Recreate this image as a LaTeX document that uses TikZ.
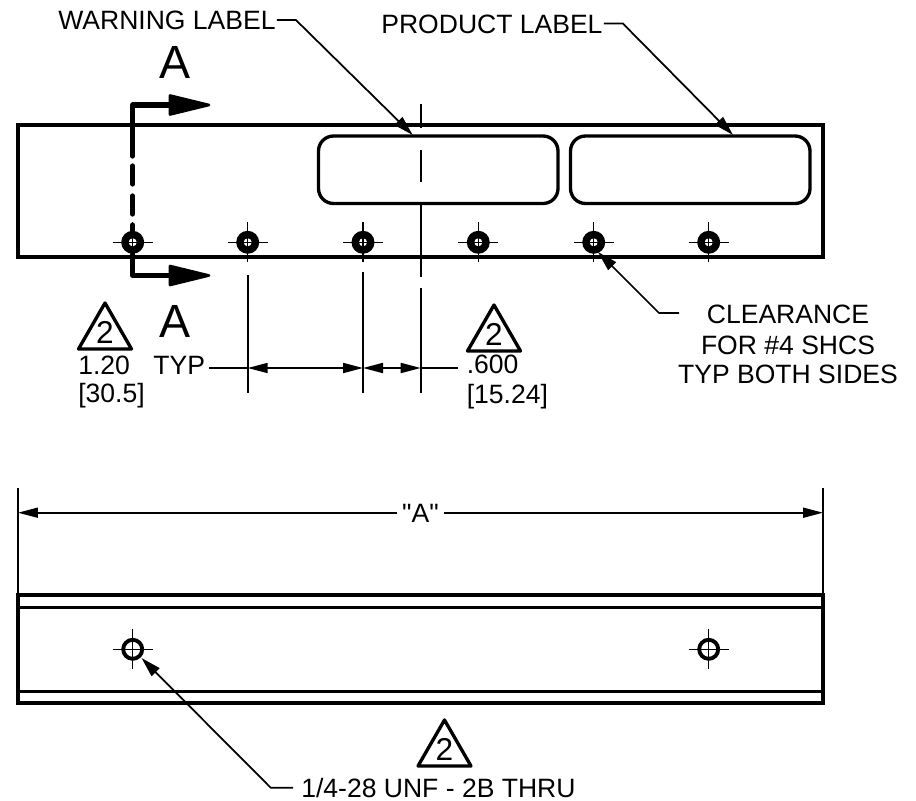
\documentclass[tikz,border=0pt]{standalone}
\usepackage{fontspec}
\setmainfont{Liberation Sans}
\newfontfamily\quotefont{Liberation Sans}
\usetikzlibrary{arrows.meta}
\begin{document}
\begin{tikzpicture}[x=0.02cm, y=-0.02cm,
    textStyle/.style={inner sep=0pt, font=\fontsize{15.1}{18}\selectfont},
    bigStyle/.style={inner sep=0pt, anchor=base, font=\fontsize{26.5}{30}\selectfont},
    revStyle/.style={inner sep=0pt, anchor=base, font=\fontsize{18}{20}\selectfont},
    partStyle/.style={line width=1.9pt},
    thinStyle/.style={line width=1pt},
    leaderStyle/.style={line width=1pt, -{Triangle[length=0.4cm, width=0.22cm]}},
    dimStyle/.style={line width=1pt, {Triangle[length=0.4cm, width=0.2cm]}-{Triangle[length=0.4cm, width=0.2cm]}},
    cutStyle/.style={line width=3pt, line cap=round, line join=round},
    headStyle/.style={fill=black, draw=black, line width=1.5pt, line join=round},
    revTriStyle/.style={line width=1.9pt, line join=round, line cap=round},
    screwStyle/.style={circle, fill=black, minimum size=0.46cm, inner sep=0pt},
    holeStyle/.style={circle, draw, line width=2.2pt, minimum size=0.38cm, inner sep=0pt},
    crossStyle/.style={line width=0.9pt}]
    \useasboundingbox (0,0) rectangle (916,801);

    % top view
    \draw[partStyle] (18,125) rectangle (823,257);
    \draw[line width=2.6pt] (18,227) -- (18,257) -- (823,257) -- (823,227);
    \draw[partStyle, rounded corners=0.3cm] (318.5,136) rectangle (558,203.5);
    \draw[partStyle, rounded corners=0.3cm] (570.5,136) rectangle (810,203.5);

    % screws
    \foreach \name/\xpos in {s0/132.7, s1/247.7, s2/363, s3/478.3, s4/593.7, s5/708.7} {
        \node[screwStyle] (\name) at (\xpos, 242.3) {};
        \fill[white] (\xpos, 242.3) circle (0.08cm);
        \draw[crossStyle] (\xpos-20, 242.3) -- (\xpos+20, 242.3);
        \draw[crossStyle] (\xpos, 222.3) -- (\xpos, 262.3);
    }

    % section line
    \coordinate (cut_top) at (132.7,105);
    \coordinate (cut_bot) at (132.7,275.5);
    \draw[cutStyle] (170,105) -- (cut_top) -- (132.7,156);
    \draw[cutStyle] (132.7,166) -- (132.7,184);
    \draw[cutStyle] (132.7,196) -- (132.7,214);
    \draw[cutStyle] (132.7,225) -- (s0);
    \draw[cutStyle] (s0) -- (cut_bot) -- (170,275.5);
    \draw[headStyle] (170,95.5) -- (209,105) -- (170,114.5) -- cycle;
    \draw[headStyle] (170,266) -- (209,275.5) -- (170,285) -- cycle;
    \node[bigStyle] (a_top) at (175,78) {A};
    \node[bigStyle] (a_bot) at (175,337) {A};

    % center line
    \draw[thinStyle] (420.7,104) -- (420.7,128);
    \draw[thinStyle] (420.7,150) -- (420.7,182);
    \draw[thinStyle] (420.7,205) -- (420.7,277);
    \draw[thinStyle] (420.7,288) -- (420.7,393);

    % extension lines
    \draw[thinStyle] (247.7,275) -- (247.7,393);
    \draw[thinStyle] (363,272) -- (363,393);

    % dimensions
    \coordinate (d0) at (247.7,368);
    \coordinate (d1) at (363,368);
    \coordinate (d2) at (420.7,368);
    \draw[dimStyle] (d0) -- (d1);
    \draw[dimStyle] (d1) -- (d2);
    \node[textStyle, anchor=base west] (typ) at (153,374) {TYP};
    \node[textStyle, anchor=base west] (d_a1) at (78,374) {1.20};
    \node[textStyle, anchor=base west] (d_a2) at (78,402) {[30.5]};
    \node[textStyle, anchor=base west] (d_b1) at (466.5,373.5) {.600};
    \node[textStyle, anchor=base west] (d_b2) at (466.5,403) {[15.24]};
    \coordinate (typ_end) at (209,368);
    \coordinate (b_end) at (458,368);
    \draw[thinStyle] (typ_end) -- (d0);
    \draw[thinStyle] (d2) -- (b_end);

    % revision marks
    \foreach \name/\xpos/\ypos in {r0/105/303, r1/494/305, r2/444.5/720} {
        \draw[revTriStyle] (\xpos,\ypos) -- (\xpos+26.5,\ypos+46) -- (\xpos-26.5,\ypos+46) -- cycle;
        \node[revStyle] (\name) at (\xpos,\ypos+40) {2};
    }

    % leaders
    \node[textStyle, anchor=base west] (warn) at (58,30) {WARNING LABEL};
    \node[textStyle, anchor=base west] (prod) at (381,33.5) {PRODUCT LABEL};
    \coordinate (warn_tip) at (412.7,135);
    \coordinate (prod_tip) at (733,135);
    \draw[leaderStyle] (warn.base east) ++(1,-10) -- ++(19,0) -- (warn_tip);
    \draw[leaderStyle] (prod.base east) ++(1,-10) -- ++(19,0) -- (prod_tip);

    \node[textStyle, anchor=base] (clr0) at (788,323) {CLEARANCE};
    \node[textStyle, anchor=base] (clr1) at (788,354) {FOR \#4 SHCS};
    \node[textStyle, anchor=base] (clr2) at (788,383) {TYP BOTH SIDES};
    \coordinate (clr_start) at (679,313);
    \coordinate (clr_tip) at (598,252);
    \draw[leaderStyle] (clr_start) -- (659,313) -- (clr_tip);

    % bottom view
    \draw[partStyle] (18,595) rectangle (823,703);
    \draw[partStyle] (18,607.5) -- (823,607.5);
    \draw[partStyle] (18,691.7) -- (823,691.7);
    \draw[line width=2.6pt] (18,607.5) -- (18,691.7);
    \draw[line width=2.6pt] (823,595) -- (823,703);
    \foreach \name/\xpos in {h0/132.7, h1/708.7} {
        \node[holeStyle] (\name) at (\xpos, 649.3) {};
        \draw[crossStyle] (\xpos-20, 649.3) -- (\xpos+20, 649.3);
        \draw[crossStyle] (\xpos, 629.3) -- (\xpos, 669.3);
    }

    % overall width
    \coordinate (w0) at (18,512.7);
    \coordinate (w1) at (823,512.7);
    \draw[thinStyle] (18,488) -- (18,595);
    \draw[thinStyle] (823,488) -- (823,595);
    \node[textStyle, anchor=base, inner xsep=0.1cm] (w_a) at (420.5,522.7) {\quotefont "A"};
    \coordinate (w_a0) at (w_a.west |- w0);
    \coordinate (w_a1) at (w_a.east |- w0);
    \draw[thinStyle, {Triangle[length=0.4cm, width=0.2cm]}-] (w0) -- (w_a0);
    \draw[thinStyle, -{Triangle[length=0.4cm, width=0.2cm]}] (w_a1) -- (w1);

    \node[textStyle, anchor=base west] (thru) at (301,797) {1/4-28 UNF - 2B THRU};
    \coordinate (thru_start) at (293,787.7);
    \coordinate (thru_tip) at (141.5,658);
    \draw[leaderStyle] (thru_start) -- (270.7,787.7) -- (thru_tip);
\end{tikzpicture}
\end{document}
